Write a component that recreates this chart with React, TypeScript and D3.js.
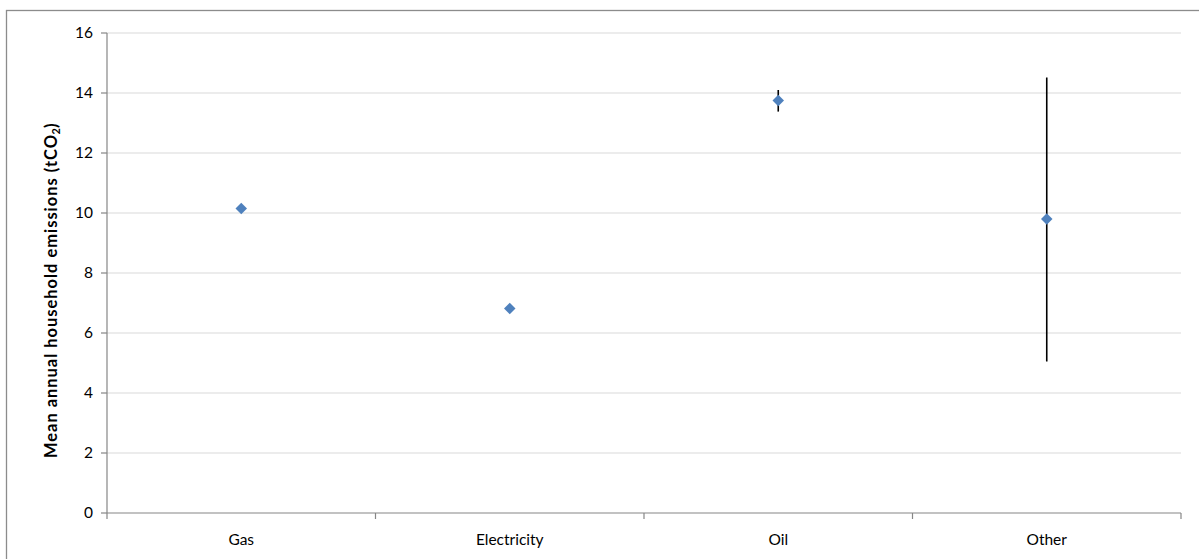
import React from "react";
import * as d3 from "d3";

// Mean annual household emissions by main heating fuel
const categories = ["Gas", "Electricity", "Oil", "Other"];
const means = [10.15, 6.82, 13.75, 9.8];
const errLow = [10.05, 6.72, 13.38, 5.05];
const errHigh = [10.25, 6.92, 14.1, 14.52];
const yTicks = [0, 2, 4, 6, 8, 10, 12, 14, 16];

const W = 1199;
const H = 559;
const margin = { left: 107, top: 33, right: 18, bottom: 46 };
const FONT = "Lato, 'Open Sans', 'Liberation Sans', sans-serif";

export default function App() {
  const x = d3
    .scaleBand<string>()
    .domain(categories)
    .range([margin.left, W - margin.right])
    .paddingInner(0)
    .paddingOuter(0);
  const y = d3.scaleLinear().domain([0, 16]).range([H - margin.bottom, margin.top]);

  const x0 = margin.left;
  const x1 = W - margin.right;
  const yBase = y(0);
  const boundaries = categories.map((c) => x(c)!).concat([x1]);
  const diamond = d3.symbol().type(d3.symbolDiamond2).size(84)();

  // axis title runs bottom-to-top; main text, subscript and closing bracket
  const titleX = 57;
  const titleStart = 458;
  const titleMainLen = 323;

  return (
    <svg
      width={W}
      height={H}
      style={{ position: "absolute", left: 0, top: 0, background: "#fff" }}
      fontFamily={FONT}
    >
      {/* outer chart frame */}
      <rect x={6.5} y={10.5} width={W + 10} height={H + 10} fill="none" stroke="#8c8c8c" strokeWidth={1.3} />

      {/* gridlines */}
      {yTicks
        .filter((t) => t > 0)
        .map((t) => (
          <line key={t} x1={x0} x2={x1} y1={y(t)} y2={y(t)} stroke="#d9d9d9" strokeWidth={1.2} />
        ))}

      {/* y axis */}
      <line x1={x0} x2={x0} y1={y(16)} y2={yBase} stroke="#868686" strokeWidth={1.2} />
      {yTicks.map((t) => (
        <g key={t}>
          <line x1={x0 - 6} x2={x0} y1={y(t)} y2={y(t)} stroke="#868686" strokeWidth={1.2} />
          <text x={x0 - 14} y={y(t)} dy="0.35em" textAnchor="end" fontSize={15.5} fill="#000">
            {t}
          </text>
        </g>
      ))}
      <g transform={`translate(${titleX},${titleStart}) rotate(-90)`} fontWeight="bold" fill="#000">
        <text x={0} y={0} fontSize={16.5} textLength={titleMainLen} lengthAdjust="spacing">
          Mean annual household emissions (tCO
        </text>
        <text x={titleMainLen + 0.5} y={3} fontSize={11}>
          2
        </text>
        <text x={titleMainLen + 7} y={0} fontSize={16.5}>
          )
        </text>
      </g>

      {/* x axis */}
      <line x1={x0} x2={x1} y1={yBase} y2={yBase} stroke="#868686" strokeWidth={1.2} />
      {boundaries.map((b, i) => (
        <line key={i} x1={b} x2={b} y1={yBase} y2={yBase + 6} stroke="#868686" strokeWidth={1.2} />
      ))}
      {categories.map((c) => (
        <text
          key={c}
          x={x(c)! + x.bandwidth() / 2}
          y={yBase + 27}
          dy="0.35em"
          textAnchor="middle"
          fontSize={15.5}
          fill="#000"
        >
          {c}
        </text>
      ))}

      {/* error bars */}
      {categories.map((c, i) => (
        <line
          key={c}
          x1={x(c)! + x.bandwidth() / 2}
          x2={x(c)! + x.bandwidth() / 2}
          y1={y(errLow[i])}
          y2={y(errHigh[i])}
          stroke="#000"
          strokeWidth={1.6}
        />
      ))}

      {/* means */}
      {categories.map((c, i) => (
        <path
          key={c}
          d={diamond!}
          transform={`translate(${x(c)! + x.bandwidth() / 2},${y(means[i])})`}
          fill="#4f81bd"
        />
      ))}
    </svg>
  );
}
